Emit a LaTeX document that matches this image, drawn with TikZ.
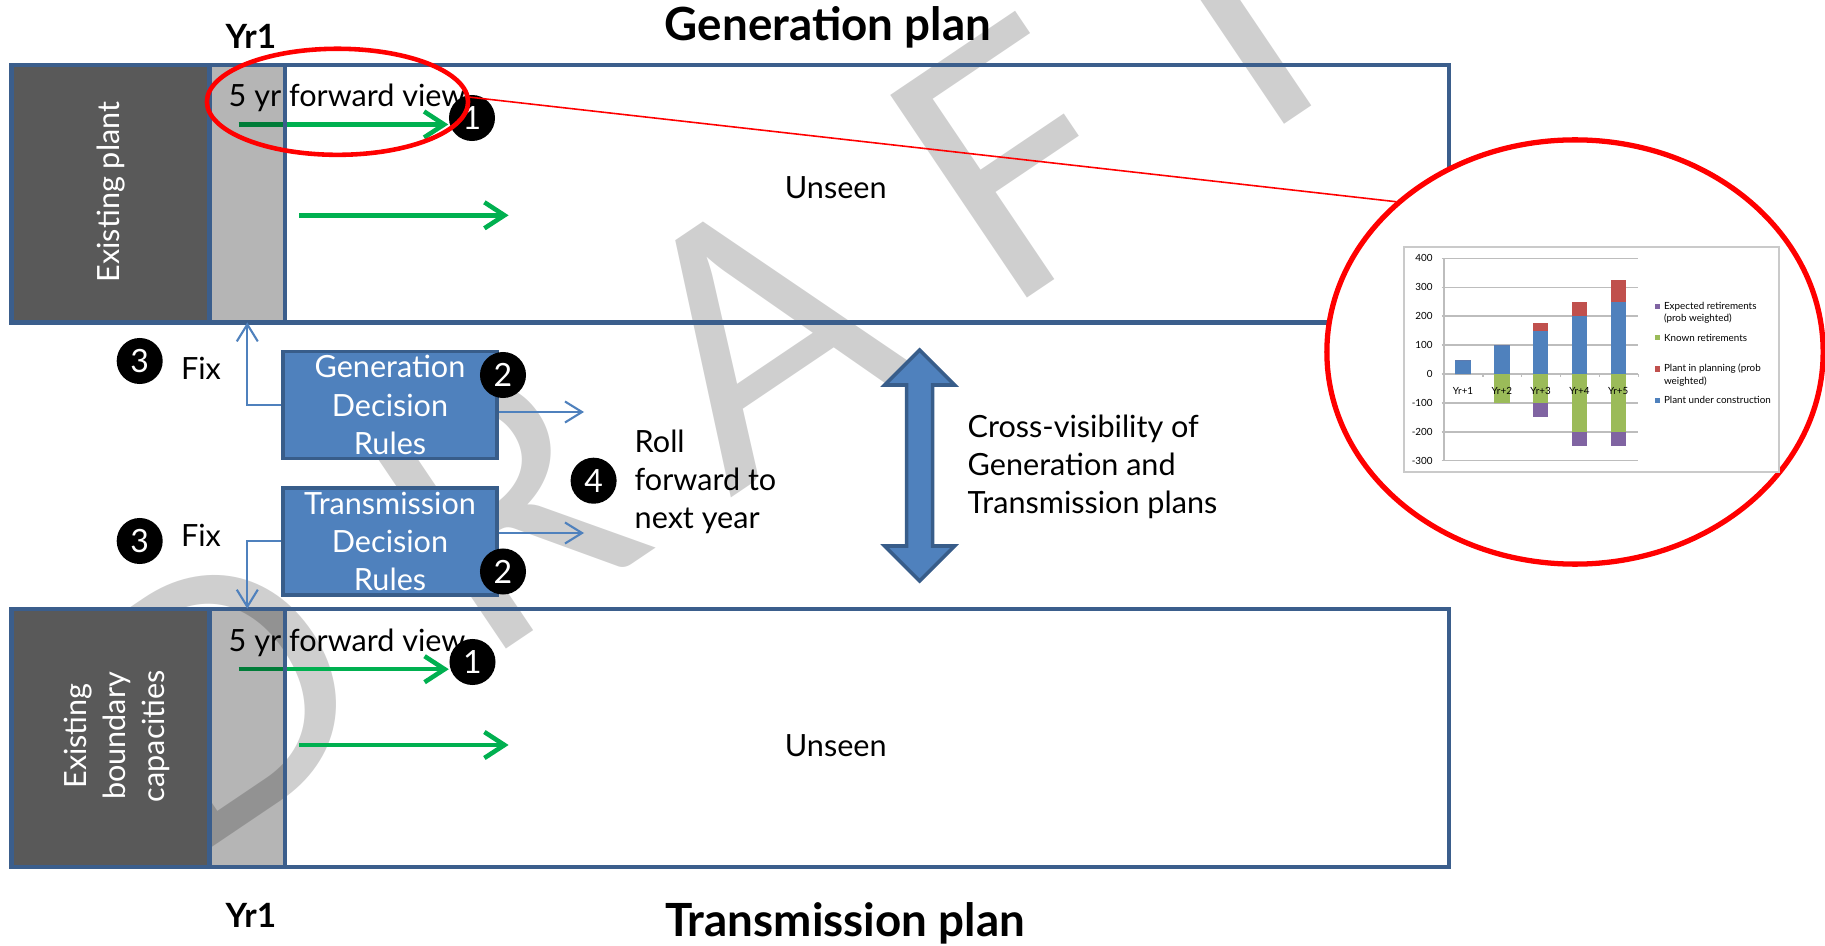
\documentclass[tikz,border=0pt]{standalone}
\usepackage{fontspec}
\setmainfont{Lato}
\usetikzlibrary{arrows.meta,shapes.geometric}
\definecolor{planblue}{HTML}{3B5E8C}
\definecolor{ruleblue}{HTML}{4F81BD}
\definecolor{ruleedge}{HTML}{385D8A}
\definecolor{fwdgreen}{HTML}{00B050}
\definecolor{darkplant}{HTML}{595959}
\definecolor{wmgray}{HTML}{CFCFCF}
\definecolor{barred}{HTML}{C0504D}
\definecolor{bargreen}{HTML}{9BBB59}
\definecolor{barpurple}{HTML}{8064A2}
\definecolor{gridgray}{HTML}{BDBDBD}

\begin{document}
\begin{tikzpicture}[x=0.01cm, y=-0.01cm,
	body/.style={font=\fontsize{8.7}{10.9}\selectfont, inner sep=0},
	heading/.style={font=\fontsize{13}{15}\selectfont\bfseries, inner sep=0},
	yrlabel/.style={font=\fontsize{9.5}{11}\selectfont\bfseries, inner sep=0},
	num/.style={circle, fill=black, text=white, minimum size=0.46cm, inner sep=0, font=\fontsize{9.1}{10.9}\selectfont},
	rulebox/.style={draw=ruleedge, line width=1pt, fill=ruleblue, text=white, minimum width=2.14cm, minimum height=1.07cm, inner sep=0, align=center, font=\fontsize{8.7}{10.9}\selectfont},
	fwd/.style={draw=fwdgreen, line width=1.3pt, -{Straight Barb[length=2mm, width=2.6mm]}},
	link/.style={draw=ruleblue, line width=0.6pt, -{Straight Barb[length=1.7mm, width=2.1mm]}},
	strip/.style={draw=planblue, line width=1.2pt},
	chartfont/.style={font=\fontsize{2.8}{3.5}\selectfont, inner sep=0},
	wmletter/.style={rotate=34, anchor=base, text=wmgray, inner sep=0, font=\fontsize{97}{97}\selectfont},
	]
	\useasboundingbox (0,0) rectangle (1825,946);

	% Watermark letters along a slanted baseline
	\foreach \ch/\d in {D/-650, R/-310, A/0, F/308, T/569}
		\node[wmletter] (wm\ch) at ({826+0.829*\d},{433.5-0.559*\d}) {\ch};

	% Existing plant / boundary blocks
	\fill[darkplant] (11.6,65.2) rectangle (209.5,322.4);
	\fill[darkplant] (11.6,608.7) rectangle (209.5,867);

	% Five year look-ahead arrows
	\node[num] (genone) at (472,118) {1};
	\node[num] (trnone) at (472.5,662) {1};
	\coordinate (genfwd) at (238.6,124.5);
	\coordinate (trnfwd) at (238.6,669.2);
	\draw[fwd] (genfwd) -- (genfwd -| genone.west);
	\draw[fwd] (trnfwd) -- (trnfwd -| trnone.west);
	\coordinate (genfar) at (299,215.3);
	\coordinate (genfarend) at (508.6,215.3);
	\coordinate (trnfar) at (299,745);
	\coordinate (trnfarend) at (508.6,745);
	\draw[fwd] (genfar) -- (genfarend);
	\draw[fwd] (trnfar) -- (trnfarend);

	% Year 1 columns
	\fill[black, fill opacity=0.29] (209.5,65.2) rectangle (285.2,322.4);
	\fill[black, fill opacity=0.29] (209.5,608.7) rectangle (285.2,867);
	\coordinate (genyr) at (247.3,322.4);
	\coordinate (trnyr) at (247.3,608.7);

	% Plan strips
	\draw[strip] (11.6,65.2) rectangle (1449,322.4);
	\draw[strip] (209.5,65.2) -- (209.5,322.4) (285.2,65.2) -- (285.2,322.4);
	\draw[strip] (11.6,608.7) rectangle (1449,867);
	\draw[strip] (209.5,608.7) -- (209.5,867) (285.2,608.7) -- (285.2,867);

	\node[body, text=white, rotate=90] (plantlbl) at (110.6,192) {Existing plant};
	\node[body, text=white, rotate=90, align=center, font=\fontsize{8.7}{11.1}\selectfont] (boundlbl) at (117,736) {Existing\\boundary\\capacities};
	\node[body, anchor=west] (genview) at (228,97.8) {5 yr forward view};
	\node[body, anchor=west] (trnview) at (228,642.5) {5 yr forward view};
	\node[body] (genunseen) at (835.7,187.4) {Unseen};
	\node[body] (trnunseen) at (835.7,746) {Unseen};

	% Titles
	\node[heading] (gentitle) at (828,27) {Generation plan};
	\node[heading] (trntitle) at (845,923) {Transmission plan};
	\node[yrlabel] (genyrlbl) at (251,36) {Yr1};
	\node[yrlabel] (trnyrlbl) at (251,915) {Yr1};

	% Decision rules
	\node[rulebox] (genrules) at (390,405) {Generation\\Decision\\Rules};
	\node[rulebox] (trnrules) at (390,541.3) {Transmission\\Decision\\Rules};
	\node[num] (gentwo) at (503,375) {2};
	\node[num] (trntwo) at (503,571.5) {2};
	\node[num] (genthree) at (139.7,361) {3};
	\node[num] (trnthree) at (139.7,541) {3};
	\node[body] (genfix) at (201,368) {Fix};
	\node[body] (trnfix) at (201,535.5) {Fix};
	\draw[link] (genrules.west) -| (genyr);
	\draw[link] (trnrules.west) -| (trnyr);
	\coordinate (genroll) at (584,412);
	\coordinate (trnroll) at (584,533);
	\draw[link] (genrules.east |- genroll) -- (genroll);
	\draw[link] (trnrules.east |- trnroll) -- (trnroll);

	% Roll forward
	\node[num] (rollfour) at (593.6,480.7) {4};
	\node[body, anchor=west, align=left] (rolltxt) at (634,482) {Roll\\forward to\\next year};

	% Cross-visibility arrow
	\draw[ruleedge, fill=ruleblue, line width=1pt] (919.5,350) -- (954.5,385) -- (932.5,385) -- (932.5,546) -- (954.5,546) -- (919.5,581) -- (884.5,546) -- (906.5,546) -- (906.5,385) -- (884.5,385) -- cycle;
	\node[body, anchor=west, align=left] (crosstxt) at (967,467) {Cross-visibility of\\Generation and\\Transmission plans};

	% Zoomed look-ahead chart
	\node[ellipse, draw=red, line width=1.3pt, minimum width=2.61cm, minimum height=1.06cm, inner sep=0] (lens) at (337.5,101.8) {};
	\node[ellipse, draw=red, fill=white, line width=1.5pt, minimum width=4.96cm, minimum height=4.24cm, inner sep=0] (zoomring) at (1575,352) {};
	\draw[red, line width=0.45pt] (lens.2) -- (zoomring.140);
	\draw[gridgray!80, fill=white, line width=0.5pt] (1404,247.3) rectangle (1779,472.3);
	\foreach \v in {400,300,...,-300}{
		\draw[gridgray, line width=0.4pt] (1441.7,{374-0.289*\v}) -- (1638.3,{374-0.289*\v});
		\node[chartfont, anchor=east] at (1433.3,{374-0.289*\v}) {\v};
	}
	\draw[gridgray, line width=0.4pt] (1444,258.3) -- (1444,460.7);
	\foreach \t in {0,...,5}
		\draw[gridgray, line width=0.4pt] ({1444+38.86*\t},374) -- ({1444+38.86*\t},376.5);
	\foreach \c/\uc/\pl/\kn/\ex in {1/50/0/0/0, 2/100/0/100/0, 3/150/25/100/50, 4/200/50/200/50, 5/250/75/200/50}{
		\pgfmathsetmacro\bx{1424.2+38.8*\c}
		\fill[ruleblue] ({\bx-7.7},374) rectangle ({\bx+7.7},{374-0.289*\uc});
		\fill[barred] ({\bx-7.7},{374-0.289*\uc}) rectangle ({\bx+7.7},{374-0.289*(\uc+\pl)});
		\fill[bargreen] ({\bx-7.7},374) rectangle ({\bx+7.7},{374+0.289*\kn});
		\fill[barpurple] ({\bx-7.7},{374+0.289*\kn}) rectangle ({\bx+7.7},{374+0.289*(\kn+\ex)});
		\node[chartfont] at (\bx,391) {Yr+\c};
	}
	% Legend
	\foreach \col/\yy/\ty/\txt in {barpurple/306.7/312.9/{Expected retirements\\(prob weighted)}, bargreen/337.7/337.7/{Known retirements}, barred/369/375.2/{Plant in planning (prob\\weighted)}, ruleblue/400.3/400.3/{Plant under construction}}{
		\fill[\col] (1655,{\yy-2.5}) rectangle (1660,{\yy+2.5});
		\node[chartfont, anchor=west, align=left] at (1663.3,\ty) {\txt};
	}
\end{tikzpicture}
\end{document}
